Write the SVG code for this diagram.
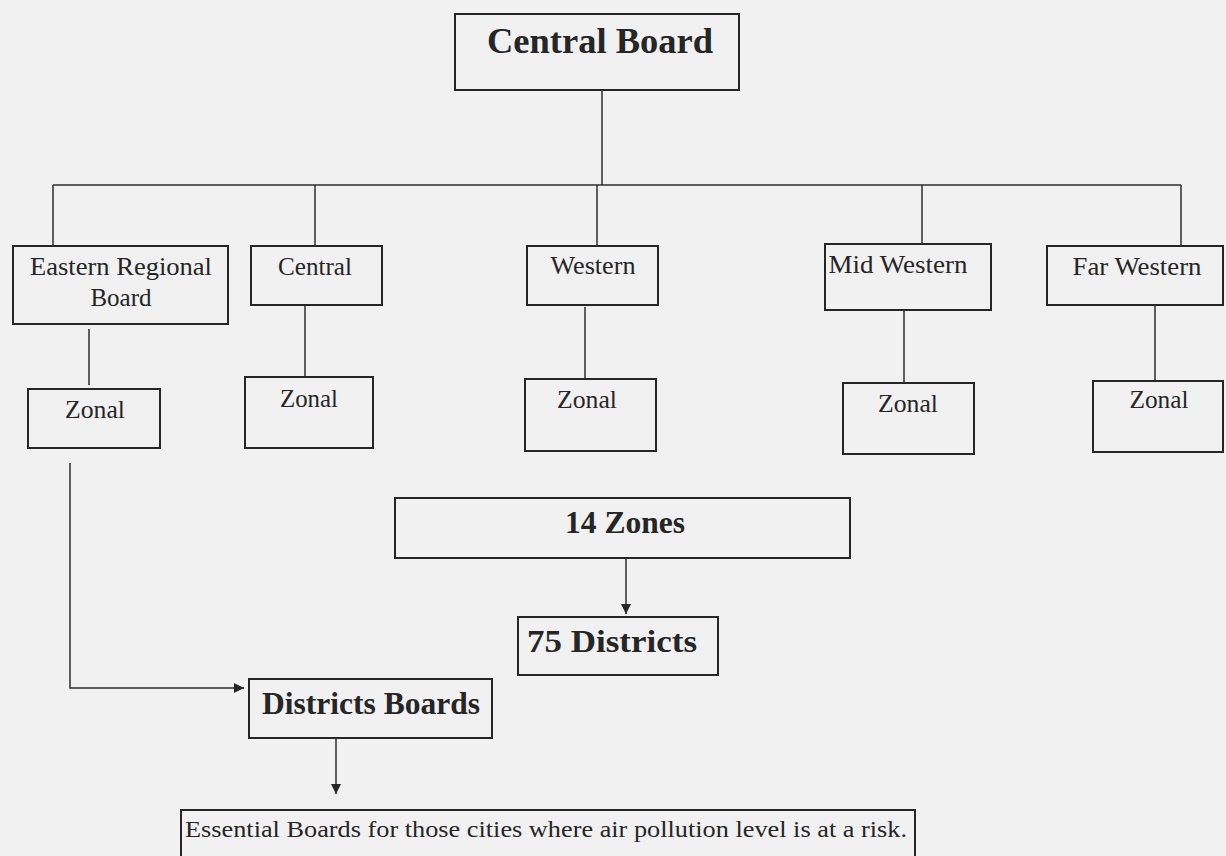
<svg xmlns="http://www.w3.org/2000/svg" width="1226" height="856" viewBox="0 0 1226 856">
  <defs>
    <style>
      .box { fill: none; stroke: #262626; stroke-width: 2; }
      .conn { fill: none; stroke: #2e2e2e; stroke-width: 1.5; }
      .t { font-family: "Liberation Serif", "Times New Roman", serif; fill: #262626; text-anchor: middle; }
      .reg { font-size: 25px; }
      .big { font-size: 31px; font-weight: bold; }
      .title { font-size: 36px; font-weight: bold; }
      .small { font-size: 23px; }
    </style>
    <marker id="arr" viewBox="0 0 10 10" refX="10" refY="5" markerWidth="10" markerHeight="10" markerUnits="userSpaceOnUse" orient="auto">
      <path d="M0,0 L10,5 L0,10 Z" fill="#262626"/>
    </marker>
  </defs>
  <rect x="0" y="0" width="1226" height="856" fill="#f1f1f1"/>

  <g id="connectors">
    <path class="conn" d="M602 90 V185"/>
    <path class="conn" d="M53 185 H1181"/>
    <path class="conn" d="M53 185 V246"/>
    <path class="conn" d="M315 185 V246"/>
    <path class="conn" d="M597 185 V246"/>
    <path class="conn" d="M922 185 V244"/>
    <path class="conn" d="M1181 185 V246"/>
    <path class="conn" d="M89 329 V385"/>
    <path class="conn" d="M305 305 V377"/>
    <path class="conn" d="M585 307 V379"/>
    <path class="conn" d="M904 310 V383"/>
    <path class="conn" d="M1155 305 V381"/>
    <path class="conn" d="M70 463 V688 H244" marker-end="url(#arr)"/>
    <path class="conn" d="M626 558 V614" marker-end="url(#arr)"/>
    <path class="conn" d="M336 738 V794" marker-end="url(#arr)"/>
  </g>

  <g id="central-board">
    <rect class="box" x="455" y="14" width="284" height="76"/>
    <text class="t title" x="600" y="53" textLength="226" lengthAdjust="spacingAndGlyphs">Central Board</text>
  </g>

  <g id="eastern">
    <rect class="box" x="13" y="246" width="215" height="78"/>
    <text class="t reg" x="121" y="275" textLength="182" lengthAdjust="spacingAndGlyphs">Eastern Regional</text>
    <text class="t reg" x="121" y="306">Board</text>
  </g>
  <g id="central">
    <rect class="box" x="251" y="246" width="131" height="59"/>
    <text class="t reg" x="315" y="275" textLength="74" lengthAdjust="spacingAndGlyphs">Central</text>
  </g>
  <g id="western">
    <rect class="box" x="527" y="246" width="131" height="59"/>
    <text class="t reg" x="593" y="274" textLength="85" lengthAdjust="spacingAndGlyphs">Western</text>
  </g>
  <g id="mid-western">
    <rect class="box" x="825" y="244" width="166" height="66"/>
    <text class="t reg" x="898" y="273" textLength="139" lengthAdjust="spacingAndGlyphs">Mid Western</text>
  </g>
  <g id="far-western">
    <rect class="box" x="1047" y="246" width="176" height="59"/>
    <text class="t reg" x="1137" y="275" textLength="129" lengthAdjust="spacingAndGlyphs">Far Western</text>
  </g>

  <g id="zonal-eastern">
    <rect class="box" x="28" y="389" width="132" height="59"/>
    <text class="t reg" x="95" y="418" textLength="60" lengthAdjust="spacingAndGlyphs">Zonal</text>
  </g>
  <g id="zonal-central">
    <rect class="box" x="245" y="377" width="128" height="71"/>
    <text class="t reg" x="309" y="407" textLength="58" lengthAdjust="spacingAndGlyphs">Zonal</text>
  </g>
  <g id="zonal-western">
    <rect class="box" x="525" y="379" width="131" height="72"/>
    <text class="t reg" x="587" y="408" textLength="60" lengthAdjust="spacingAndGlyphs">Zonal</text>
  </g>
  <g id="zonal-mid-western">
    <rect class="box" x="843" y="383" width="131" height="71"/>
    <text class="t reg" x="908" y="412" textLength="60" lengthAdjust="spacingAndGlyphs">Zonal</text>
  </g>
  <g id="zonal-far-western">
    <rect class="box" x="1093" y="381" width="130" height="71"/>
    <text class="t reg" x="1159" y="408" textLength="59" lengthAdjust="spacingAndGlyphs">Zonal</text>
  </g>

  <g id="fourteen-zones">
    <rect class="box" x="395" y="498" width="455" height="60"/>
    <text class="t big" x="625" y="533" textLength="120" lengthAdjust="spacingAndGlyphs">14 Zones</text>
  </g>
  <g id="seventy-five-districts">
    <rect class="box" x="518" y="617" width="200" height="58"/>
    <text class="t big" x="612" y="652" textLength="170" lengthAdjust="spacingAndGlyphs">75 Districts</text>
  </g>
  <g id="districts-boards">
    <rect class="box" x="249" y="679" width="243" height="59"/>
    <text class="t big" x="371" y="714" textLength="218" lengthAdjust="spacingAndGlyphs">Districts Boards</text>
  </g>
  <g id="essential-boards">
    <rect class="box" x="181" y="810" width="734" height="70"/>
    <text class="t small" x="546" y="837" textLength="722" lengthAdjust="spacingAndGlyphs">Essential Boards for those cities where air pollution level is at a risk.</text>
  </g>
</svg>
